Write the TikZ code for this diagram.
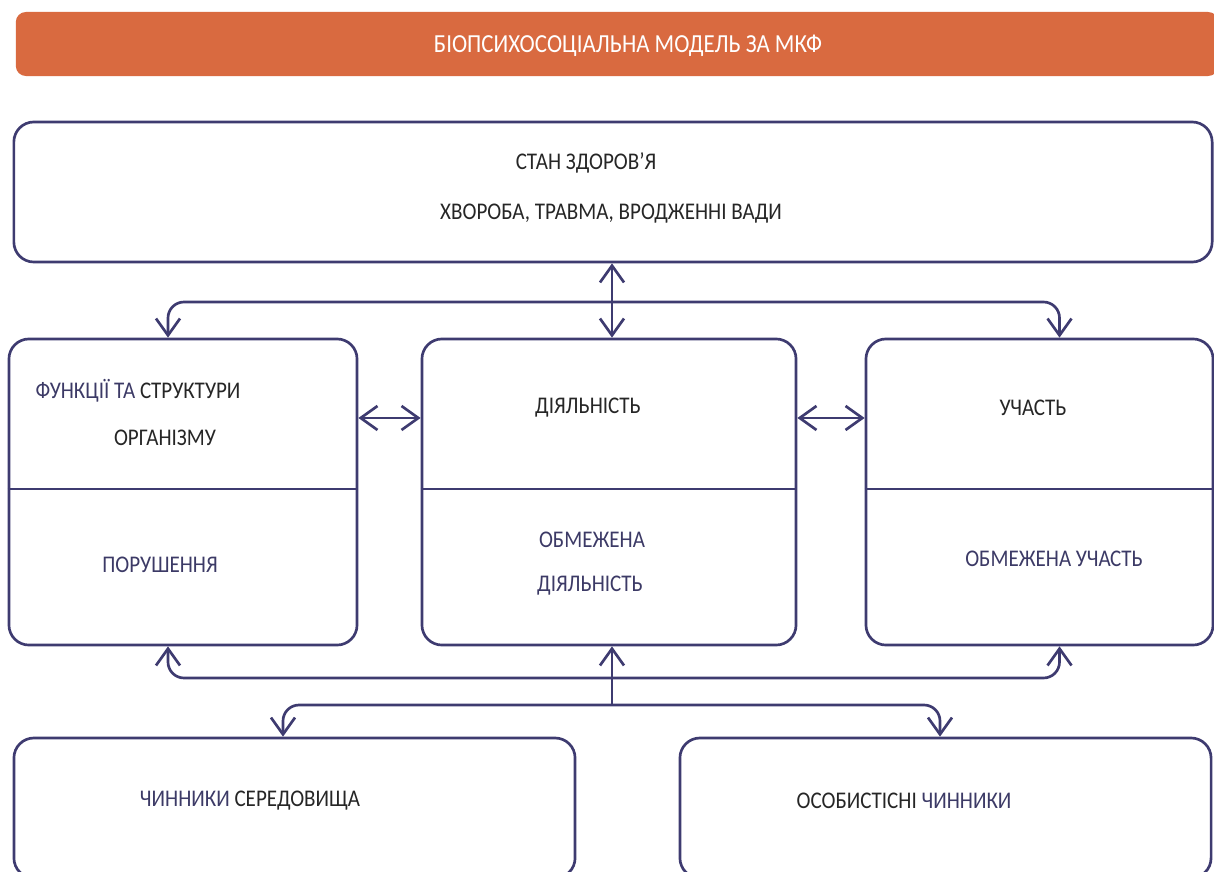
\documentclass[tikz,border=0pt]{standalone}
\usepackage{fontspec}
\setmainfont{Carlito}[FakeStretch=0.88]
\usetikzlibrary{arrows.meta}
\definecolor{linecol}{HTML}{3E3B70}
\definecolor{titlecol}{HTML}{D96A40}
\definecolor{inkcol}{HTML}{262626}
\definecolor{violetink}{HTML}{3C3A66}
\tikzset{
  box/.style={draw=linecol, line width=1.9pt, rounded corners=0.5cm, inner sep=0pt},
  lbl/.style={text=inkcol, font=\fontsize{17}{20}\selectfont, inner sep=0pt},
  vlbl/.style={lbl, text=violetink},
  link/.style={draw=linecol, line width=1.9pt, rounded corners=0.4cm},
}
\begin{document}
\begin{tikzpicture}[x=0.025cm, y=-0.025cm, >={Straight Barb[length=0.42cm,width=0.6cm]}]
    \useasboundingbox (0,0) rectangle (1214,872);
    \node[fill=titlecol, rounded corners=0.25cm, minimum width=30.05cm, minimum height=1.6cm] (title) at (617,44) {};
    \node[lbl, text=white, font=\fontsize{18.5}{21}\selectfont] (titletxt) at (628,46) {БІОПСИХОСОЦІАЛЬНА МОДЕЛЬ ЗА МКФ};

    \node[box, minimum width=29.95cm, minimum height=3.5cm] (health) at (613,192) {};
    \node[box, minimum width=8.7cm, minimum height=7.65cm] (body) at (183,492) {};
    \node[box, minimum width=9.35cm, minimum height=7.65cm] (act) at (609,492) {};
    \node[box, minimum width=8.675cm, minimum height=7.65cm] (part) at (1039.5,492) {};
    \node[box, minimum width=14.025cm, minimum height=3.5cm] (env) at (294.5,808) {};
    \node[box, minimum width=13.275cm, minimum height=3.5cm] (pers) at (945.5,808) {};

    \draw[link] ([yshift=0.075cm]body.west) -- ([yshift=0.075cm]body.east);
    \draw[link] ([yshift=0.075cm]act.west) -- ([yshift=0.075cm]act.east);
    \draw[link] ([yshift=0.075cm]part.west) -- ([yshift=0.075cm]part.east);

    \node[lbl] (healthtop) at (586,163) {СТАН ЗДОРОВ’Я};
    \node[lbl] (healthsub) at (611,214) {ХВОРОБА, ТРАВМА, ВРОДЖЕННІ ВАДИ};
    \node[lbl] (bodytop) at (138,391) {\textcolor{violetink}{ФУНКЦІЇ ТА} СТРУКТУРИ};
    \node[lbl] (bodymid) at (165,438) {ОРГАНІЗМУ};
    \node[vlbl] (bodylow) at (160,565) {ПОРУШЕННЯ};
    \node[lbl] (acttop) at (588,408) {ДІЯЛЬНІСТЬ};
    \node[vlbl] (actlow) at (592,540) {ОБМЕЖЕНА};
    \node[vlbl] (actlow2) at (590,586) {ДІЯЛЬНІСТЬ};
    \node[lbl] (parttop) at (1033,408) {УЧАСТЬ};
    \node[vlbl] (partlow) at (1054,559) {ОБМЕЖЕНА УЧАСТЬ};
    \node[lbl] (envtxt) at (250,801) {\textcolor{violetink}{ЧИННИКИ} СЕРЕДОВИЩА};
    \node[lbl] (perstxt) at (904,801) {ОСОБИСТІСНІ \textcolor{violetink}{ЧИННИКИ}};

    \coordinate (hubtop) at (612,302);
    \coordinate (midbar) at (612,678);
    \coordinate (hubbot) at (612,705);

    \draw[link,<->] (health.south -| hubtop) -- (hubtop |- act.north);
    \draw[link,<->] ([xshift=-0.375cm]body.north) |- (hubtop) -| ([xshift=0.5cm]part.north);
    \draw[link,<->] ([yshift=1.85cm]body.east) -- ([yshift=1.85cm]act.west);
    \draw[link,<->] ([yshift=1.85cm]act.east) -- ([yshift=1.85cm]part.west);
    \draw[link,<->] ([xshift=-0.375cm]body.south) |- (midbar) -| ([xshift=0.5cm]part.south);
    \draw[link,->] (hubbot) -- (hubbot |- act.south);
    \draw[link,<->] ([xshift=-0.2875cm]env.north) |- (hubbot) -| ([xshift=-0.1375cm]pers.north);
\end{tikzpicture}
\end{document}
